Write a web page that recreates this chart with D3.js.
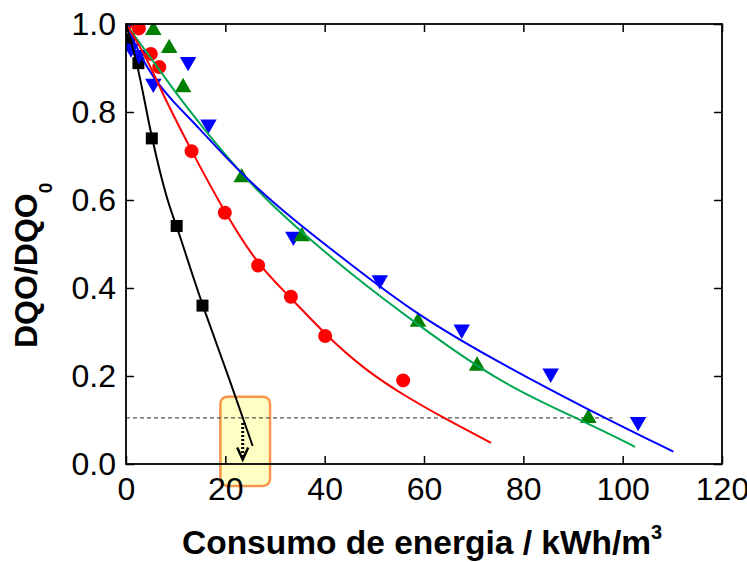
<!DOCTYPE html>
<html>
<head>
<meta charset="utf-8">
<script src="https://cdn.jsdelivr.net/npm/d3@7"></script>
<style>
  body { margin: 0; background: #fff; }
  text { font-family: "Liberation Sans", Arial, sans-serif; }
</style>
</head>
<body>
<div id="chart"></div>
<script>
// measured points [energy kWh/m3, DQO/DQO0]
const blackPts = [[0.6, 0.965], [2.5, 0.911], [5.2, 0.740], [10.2, 0.541], [15.4, 0.360]];
const redPts = [[0, 1.0], [2.6, 0.99], [5.0, 0.932], [6.7, 0.902], [13.2, 0.711], [19.9, 0.571],
                [26.6, 0.451], [33.2, 0.380], [40.1, 0.291], [55.8, 0.190]];
const greenPts = [[5.5, 0.986], [8.7, 0.945], [11.5, 0.856], [23.3, 0.651], [35.4, 0.517],
                  [58.8, 0.323], [70.7, 0.223], [93.1, 0.104]];
const bluePts = [[0, 1.0], [1.0, 0.945], [2.6, 0.93], [5.5, 0.865], [12.5, 0.914], [16.6, 0.772],
                 [33.7, 0.517], [51.1, 0.418], [67.6, 0.306], [85.5, 0.206], [103.1, 0.096]];

// fitted curves
const blackFit = [[0, 1.0], [1, 0.96], [2.15, 0.914], [3.8, 0.823], [5.2, 0.74], [8.2, 0.6],
                  [10.2, 0.541], [12.2, 0.471], [15.4, 0.36], [20.9, 0.191], [25.5, 0.041]];
const redFit = [[0, 1.0], [2.5, 0.955], [4.8, 0.907], [7.5, 0.838], [13.2, 0.711], [19.9, 0.571],
                [26.6, 0.451], [33.2, 0.378], [40.1, 0.294], [48, 0.215], [55.8, 0.157], [63.9, 0.105], [73.5, 0.048]];
const greenFit = [[0, 1.0], [5.5, 0.915], [9.5, 0.852], [14.6, 0.776], [23.3, 0.657], [32.4, 0.555],
                  [45.1, 0.433], [58.9, 0.315], [75.3, 0.183], [93.1, 0.0925], [102.5, 0.039]];
const blueFit = [[0, 1.0], [2.8, 0.93], [5.5, 0.877], [9.5, 0.823], [14.2, 0.77], [23.3, 0.657],
                 [33.7, 0.555], [45.1, 0.455], [58.5, 0.339], [75.3, 0.229], [93.1, 0.123],
                 [110.2, 0.028]];

const xTicks = [0, 20, 40, 60, 80, 100, 120];
const yTicks = [0.0, 0.2, 0.4, 0.6, 0.8, 1.0];

// annotation: 10% residual level and highlighted intercept
const limitLevel = 0.105;
const limitEnd = 98;
const boxX = [19, 29], boxY = [-0.05, 0.153];
const arrowX = 23.5, arrowY = [0.093, 0.01];

const width = 747, height = 562;
const x = d3.scaleLinear().domain([0, 120]).range([126, 722]);
const y = d3.scaleLinear().domain([0, 1]).range([464, 24]);

const svg = d3.select("#chart").append("svg")
    .attr("width", width)
    .attr("height", height);

svg.append("defs").append("clipPath").attr("id", "plotclip")
  .append("rect")
    .attr("x", x(0)).attr("y", y(1))
    .attr("width", x(120) - x(0)).attr("height", y(0) - y(1));

// highlight box (drawn first, sits behind everything)
svg.append("rect")
    .attr("x", x(boxX[0])).attr("y", y(boxY[1]))
    .attr("width", x(boxX[1]) - x(boxX[0]))
    .attr("height", y(boxY[0]) - y(boxY[1]))
    .attr("rx", 7)
    .attr("fill", "#ffffc4")
    .attr("stroke", "#f7964a")
    .attr("stroke-width", 2.5);

// dashed level line
svg.append("line")
    .attr("x1", x(0)).attr("x2", x(limitEnd))
    .attr("y1", y(limitLevel)).attr("y2", y(limitLevel))
    .attr("stroke", "#555").attr("stroke-width", 1.2)
    .attr("stroke-dasharray", "4,3");

const plot = svg.append("g").attr("clip-path", "url(#plotclip)");

const series = [
  {pts: blackPts, fit: blackFit, fill: "#000000", line: "#000000", shape: d3.symbolSquare, size: 144, rot: 0},
  {pts: redPts, fit: redFit, fill: "#ff0000", line: "#ff0000", shape: d3.symbolCircle, size: 154, rot: 0},
  {pts: bluePts, fit: blueFit, fill: "#0000ff", line: "#0000ff", shape: d3.symbolTriangle, size: 118, rot: 180},
  {pts: greenPts, fit: greenFit, fill: "#008000", line: "#00a651", shape: d3.symbolTriangle, size: 118, rot: 0}
];

// markers
series.forEach(s => {
  plot.selectAll(null)
    .data(s.pts)
    .enter().append("path")
      .attr("d", d3.symbol().type(s.shape).size(s.size))
      .attr("transform", d => "translate(" + x(d[0]) + "," + y(d[1]) + ") rotate(" + s.rot + ")")
      .attr("fill", s.fill);
});

// fit curves on top of the markers
const line = d3.line()
    .x(d => x(d[0]))
    .y(d => y(d[1]))
    .curve(d3.curveBasis);

[series[3], series[2], series[1], series[0]].forEach(s => {
  plot.append("path")
      .datum(s.fit)
      .attr("d", line)
      .attr("fill", "none")
      .attr("stroke", s.line)
      .attr("stroke-width", 2);
});

// dotted arrow down to the axis
svg.append("line")
    .attr("x1", x(arrowX)).attr("x2", x(arrowX))
    .attr("y1", y(arrowY[0])).attr("y2", y(arrowY[1]) - 2)
    .attr("stroke", "#000").attr("stroke-width", 3)
    .attr("stroke-dasharray", "2,2");
svg.append("path")
    .attr("d", "M" + (x(arrowX) - 5.5) + "," + (y(arrowY[1]) - 12) +
               "L" + x(arrowX) + "," + y(arrowY[1]) +
               "L" + (x(arrowX) + 5.5) + "," + (y(arrowY[1]) - 12))
    .attr("fill", "none").attr("stroke", "#000")
    .attr("stroke-width", 2.5).attr("stroke-linejoin", "miter");

// frame with inward ticks
const tickLen = 8;
svg.append("g")
    .attr("transform", "translate(0," + y(0) + ")")
    .call(d3.axisBottom(x).tickValues(xTicks).tickSize(-tickLen).tickPadding(13))
    .call(g => g.select(".domain").remove());
svg.append("g")
    .attr("transform", "translate(0," + y(1) + ")")
    .call(d3.axisTop(x).tickValues(xTicks).tickSize(-tickLen).tickFormat(""))
    .call(g => g.select(".domain").remove());
svg.append("g")
    .attr("transform", "translate(" + x(0) + ",0)")
    .call(d3.axisLeft(y).tickValues(yTicks).tickSize(-tickLen).tickPadding(10).tickFormat(d3.format(".1f")))
    .call(g => g.select(".domain").remove());
svg.append("g")
    .attr("transform", "translate(" + x(120) + ",0)")
    .call(d3.axisRight(y).tickValues(yTicks).tickSize(-tickLen).tickFormat(""))
    .call(g => g.select(".domain").remove());

svg.selectAll(".tick line").attr("stroke", "#000").attr("stroke-width", 1.5);
svg.selectAll(".tick text")
    .attr("fill", "#000")
    .style("font-size", "32px")
    .style("font-family", "'Liberation Sans', Arial, sans-serif");

svg.append("rect")
    .attr("x", x(0)).attr("y", y(1))
    .attr("width", x(120) - x(0)).attr("height", y(0) - y(1))
    .attr("fill", "none").attr("stroke", "#000").attr("stroke-width", 1.8);

// axis titles
const xt = svg.append("text")
    .attr("x", 182).attr("y", 554)
    .attr("text-anchor", "start")
    .style("font-size", "33.5px").style("font-weight", "bold");
xt.append("tspan").text("Consumo de energia / kWh/m");
xt.append("tspan").attr("dy", -15).style("font-size", "20px").text("3");

const yt = svg.append("text")
    .attr("transform", "translate(37,348) rotate(-90)")
    .attr("text-anchor", "start")
    .style("font-size", "32px").style("font-weight", "bold");
yt.append("tspan").text("DQO/DQO");
yt.append("tspan").attr("dy", 15).style("font-size", "19px").text("0");
</script>
</body>
</html>
